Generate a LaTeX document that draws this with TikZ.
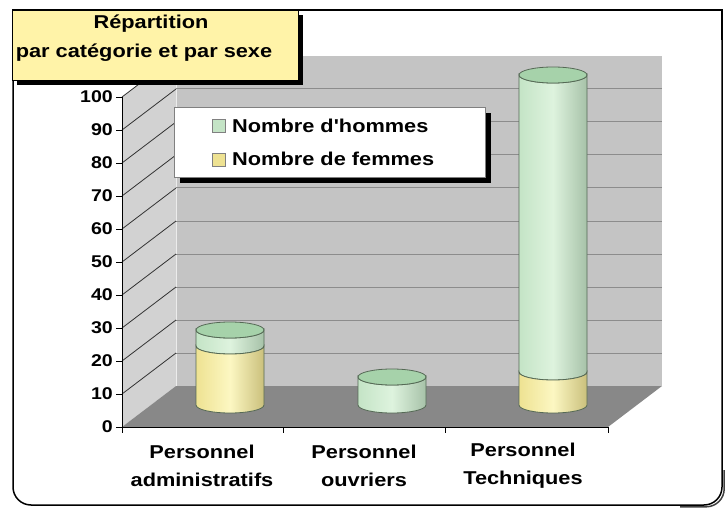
\documentclass[tikz,border=0pt]{standalone}
\usepackage{fontspec}
\setmainfont{Liberation Sans}
\usetikzlibrary{calc,shadings}

\definecolor{titre}{RGB}{255,243,168}
\definecolor{murfond}{RGB}{196,196,196}
\definecolor{murgauche}{RGB}{210,210,210}
\definecolor{sol}{RGB}{136,136,136}
\definecolor{grille}{RGB}{140,140,140}
\definecolor{hom}{RGB}{196,228,198}
\definecolor{homclair}{RGB}{222,243,222}
\definecolor{homtop}{RGB}{166,210,170}
\definecolor{fem}{RGB}{238,226,146}
\definecolor{femclair}{RGB}{252,247,194}
\definecolor{trait}{RGB}{85,105,85}

\tikzset{lbl/.style={font=\bfseries\fontsize{18.6}{28}\selectfont,xscale=1.17,inner sep=0pt}}
\tikzset{axe/.style={font=\bfseries\fontsize{17}{20}\selectfont,xscale=1.15,inner sep=0pt}}

\begin{document}
\begin{tikzpicture}[x=1pt,y=-1pt]
\useasboundingbox (0,0) rectangle (726,508);
\coordinate[] (O) at (122,427);
\coordinate[] (A) at (122,97);
\coordinate[] (B) at (176,56);
\coordinate[] (C) at (176,386);
\coordinate[] (D) at (662,386);
\coordinate[] (E) at (608,427);
% cadre
\draw [line width=1.5] (13,40) -- (13,10) -- (722,10) -- (722,40);
\draw [line width=1.5,rounded corners=18] (722,40) -- (722,505) -- (13,505) -- (13,40);
\draw [line width=1.5,black!75,rounded corners=18] (724.2,470) -- (724.2,506.8) -- (680,506.8);
% murs et sol
\fill [murfond] (B) rectangle (D);
\fill [murgauche] (O) -- (A) -- (B) -- (C) -- cycle;
\fill [sol] (O) -- (E) -- (D) -- (C) -- cycle;
\draw [white!85!gray,line width=0.8] (B) -- (C);
\foreach \k in {1,...,9}
	\draw [grille,line width=1] (176,386-33*\k) -- (662,386-33*\k);
\foreach \k in {1,...,10}
	\draw [black!80,line width=0.8] (122,427-33*\k) -- (176,386-33*\k);
\draw [line width=0.8] (A) -- (O) -- (E);
\foreach \k in {0,...,10}
	\draw [line width=0.8] (116,427-33*\k) -- (122,427-33*\k);
\foreach \x in {122,283,445,608}
	\draw [line width=0.8] (\x,427) -- (\x,433);
\foreach \k in {0,...,10}
	\node[axe,anchor=east] (y\k) at (113,427-33*\k) {\the\numexpr 10*\k\relax};
% cylindres
\foreach \cx/\ym/\yt in {230/346/330,392/405/377,553/372/75}
{
	\draw [draw=trait,line width=0.8,left color=hom,right color=hom!85!black,middle color=homclair]
		(\cx-34,\yt) -- (\cx-34,\ym) arc[start angle=180,end angle=0,x radius=34,y radius=8]
		-- (\cx+34,\yt) arc[start angle=0,end angle=180,x radius=34,y radius=8] -- cycle;
	\draw [draw=trait,line width=0.8,fill=homtop] (\cx,\yt) ellipse[x radius=34,y radius=8];
}
\foreach \cx/\ym in {230/346,553/372}
	\draw [draw=trait,line width=0.8,left color=fem,right color=fem!85!black,middle color=femclair]
		(\cx-34,\ym) -- (\cx-34,405) arc[start angle=180,end angle=0,x radius=34,y radius=8]
		-- (\cx+34,\ym) arc[start angle=0,end angle=180,x radius=34,y radius=8] -- cycle;
% legende
\fill [black] (180,113) rectangle (491,183);
\filldraw [fill=white,draw=gray] (174,107) rectangle (485,177);
\filldraw [fill=hom,draw=gray] (212,119) rectangle (225,132);
\filldraw [fill=fem,draw=gray] (212,153) rectangle (225,166);
\node[lbl,anchor=west] (leg1) at (232,126) {Nombre d\textquotesingle hommes};
\node[lbl,anchor=west] (leg2) at (232,159) {Nombre de femmes};
% categories
\node[lbl,align=center] (cat1) at (202,466) {Personnel\\administratifs};
\node[lbl,align=center] (cat2) at (364,466) {Personnel\\ouvriers};
\node[lbl,align=center] (cat3) at (523,466) {Personnel\\Techniques};
% titre
\fill [black] (17,15) rectangle (303,85);
\filldraw [fill=titre,draw=black] (12,10) rectangle (298,80);
\node[lbl] (rep) at (151,24) {Répartition};
\node[lbl] (sub) at (144,53) {par catégorie et par sexe};
\end{tikzpicture}
\end{document}
